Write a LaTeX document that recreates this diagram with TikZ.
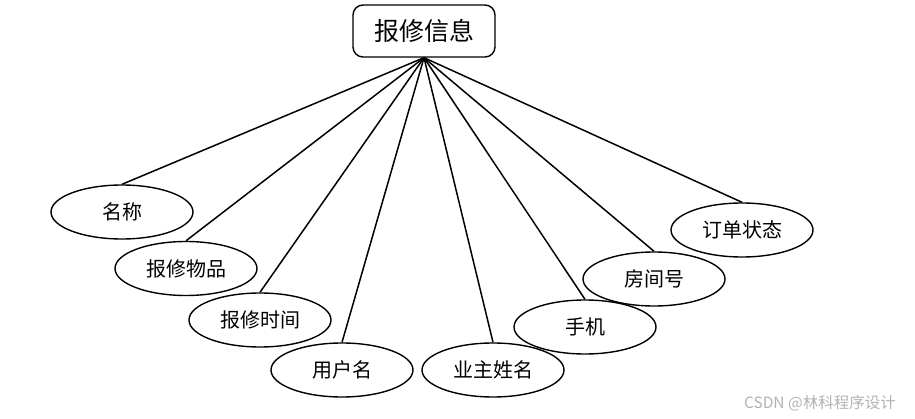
\documentclass[tikz,border=0pt]{standalone}
\usepackage{fontspec}
\setmainfont{Noto Sans CJK SC}
\usetikzlibrary{shapes.geometric}
\begin{document}
\begin{tikzpicture}[x=1pt,y=-1pt,
  attr/.style={ellipse,draw,line width=1.4pt,minimum width=142pt,minimum height=54pt,inner sep=0pt,font=\fontsize{20}{22}\selectfont},
  topbox/.style={rectangle,rounded corners=10pt,draw,line width=1.4pt,minimum width=142pt,minimum height=52pt,font=\fontsize{25}{28}\selectfont},
  link/.style={line width=1.5pt}]
\useasboundingbox (0,0) rectangle (915,419);
\node[topbox] (top) at (424,31) {报修信息};
\node[attr] (a1) at (122,212) {名称};
\node[attr] (a2) at (186,268.5) {报修物品};
\node[attr] (a3) at (260,320) {报修时间};
\node[attr] (a4) at (342,370) {用户名};
\node[attr] (a5) at (493,370) {业主姓名};
\node[attr] (a6) at (585,327) {手机};
\node[attr] (a7) at (654,279) {房间号};
\node[attr] (a8) at (742,230) {订单状态};
\foreach \n in {a1,a2,a3,a4,a5,a6,a7,a8}
  \draw[link] (top.south) -- (\n.north);
\node[text=black!30,font=\fontsize{15.5}{17}\selectfont,anchor=east,inner sep=0pt] (wm) at (896,403) {CSDN @林科程序设计};
\end{tikzpicture}
\end{document}
